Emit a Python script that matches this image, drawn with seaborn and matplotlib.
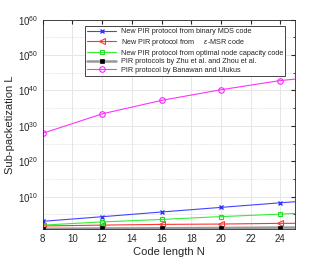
import numpy as np
import pandas as pd
import matplotlib
matplotlib.use("Agg")
import matplotlib.pyplot as plt
import seaborn as sns
from matplotlib.ticker import FixedLocator, NullFormatter

# data (log10 of L), last point is the axis edge N=25
N = [8, 12, 16, 20, 24, 25]
mds_log = [3.07, 4.37, 5.7, 7.0, 8.3, 8.6]
msr_log = [1.75, 2.0, 2.2, 2.3, 2.5, 2.5]
opt_log = [2.0, 2.9, 3.6, 4.4, 5.1, 5.3]
zhu_log = [0.95, 1.05, 1.1, 1.2, 1.3, 1.3]
ban_log = [27.9, 33.4, 37.2, 40.2, 42.8, 43.2]

labels = [
    "New PIR protocol from binary MDS code",
    "New PIR protocol from     $\\epsilon$-MSR code",
    "New PIR protocol from optimal node capacity code",
    "PIR protocols by Zhu et al. and Zhou et al.",
    "PIR protocol by Banawan and Ulukus",
]

sns.set_style("white")
plt.rcParams['font.family'] = ['Liberation Sans', 'DejaVu Sans']
plt.rcParams['mathtext.fontset'] = 'custom'
plt.rcParams['mathtext.rm'] = 'Liberation Sans'
plt.rcParams['mathtext.it'] = 'Liberation Sans:italic'

fig = plt.figure(figsize=(3.27, 2.58), dpi=100)
ax = fig.add_axes([0.1306, 0.111, 0.772, 0.813])

series = [
    (mds_log, dict(color="#4444ff", marker="x", markersize=3.5, lw=0.8, mec="#3333ff", mew=1.0)),
    (msr_log, dict(color="#ff3333", marker="<", markersize=4, lw=0.8, mfc="none", mec="#ff3333", mew=0.8)),
    (opt_log, dict(color="#33ee33", marker="s", markersize=3.5, lw=0.8, mfc="none", mec="#22dd22", mew=0.8)),
    (zhu_log, dict(color="#999999", marker="s", markersize=2.5, lw=1.8, mfc="black", mec="black", mew=0.5)),
    (ban_log, dict(color="#ff33ff", marker="o", markersize=4, lw=0.8, mfc="none", mec="#ff22ff", mew=0.8)),
]

for (vals, kw), lab in zip(series, labels):
    df = pd.DataFrame({"N": N, "L": [10.0 ** v for v in vals]})
    sns.lineplot(data=df, x="N", y="L", ax=ax, label=lab, markevery=[0, 1, 2, 3, 4], **kw)

ax.set_yscale("log")
ax.set_xlim(8, 25)
ax.set_ylim(10 ** 0.8, 1e60)
ax.set_xticks([8, 10, 12, 14, 16, 18, 20, 22, 24])
ax.yaxis.set_major_locator(FixedLocator([1e10, 1e20, 1e30, 1e40, 1e50, 1e60]))
ax.yaxis.set_minor_locator(FixedLocator([1e5, 1e15, 1e25, 1e35, 1e45, 1e55]))
ax.yaxis.set_minor_formatter(NullFormatter())
ax.set_yticklabels(["$10^{10}$", "$10^{20}$", "$10^{30}$", "$10^{40}$", "$10^{50}$", "$10^{60}$"])

ax.grid(True, which="major", color="#e6e6e6", lw=0.7)
ax.grid(True, which="minor", axis="y", color="#cccccc", lw=0.5, ls=":")
ax.tick_params(direction="in", length=3, labelsize=7, colors="#262626", top=True, right=True)
ax.tick_params(which="minor", direction="in", length=1.5, right=True)
for s in ax.spines.values():
    s.set_color("#262626")
    s.set_linewidth(0.6)

ax.set_xlabel("Code length N", fontsize=8, color="#262626", labelpad=2)
ax.set_ylabel("Sub-packetization L", fontsize=8, color="#262626", labelpad=2)

leg = ax.legend(loc="upper left", bbox_to_anchor=(0.168, 0.969), fontsize=5.2,
                frameon=True, fancybox=False, borderpad=0.3, labelspacing=0.22,
                handlelength=4.0, handletextpad=0.6, borderaxespad=0)
leg.get_frame().set_edgecolor("#262626")
leg.get_frame().set_linewidth(0.6)
leg.get_frame().set_alpha(1)

fig.savefig("out.png", dpi=100)
